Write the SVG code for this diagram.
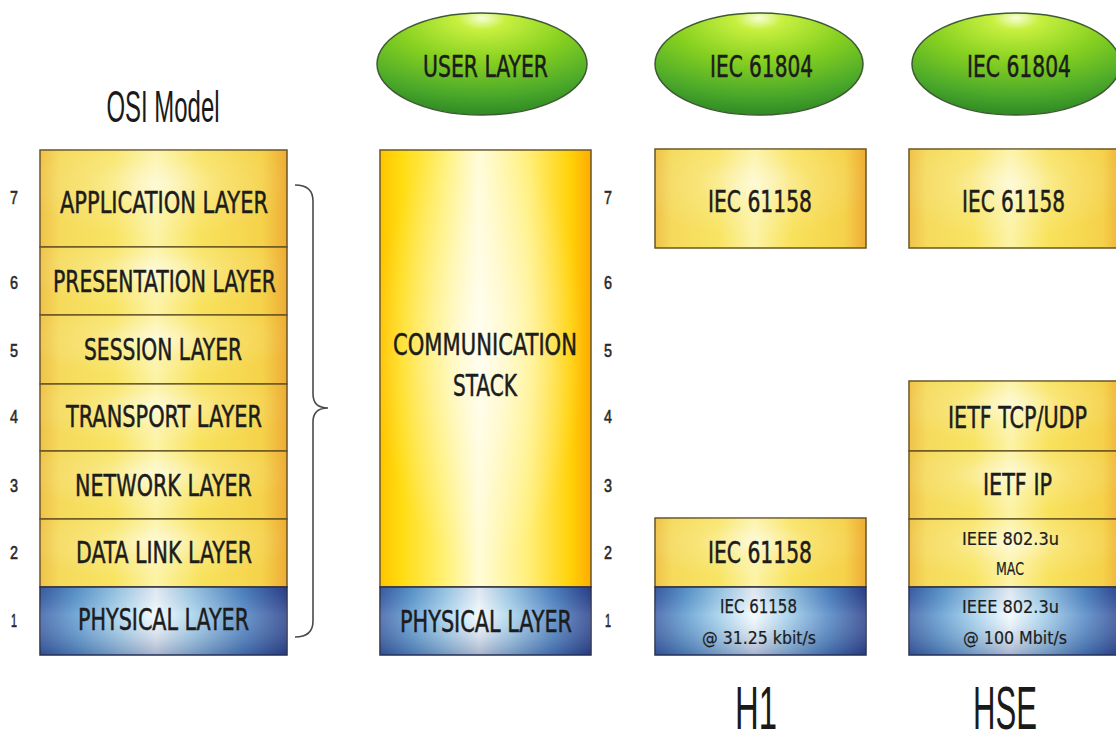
<svg xmlns="http://www.w3.org/2000/svg" width="1116" height="734" viewBox="0 0 1116 734">
  <defs>
    <!-- golden layer fill: warm edges, pale centre -->
    <linearGradient id="yelH" x1="0" y1="0" x2="1" y2="0">
      <stop offset="0" stop-color="#efc24a"/>
      <stop offset="0.08" stop-color="#f5da5c"/>
      <stop offset="0.3" stop-color="#f8e462"/>
      <stop offset="0.47" stop-color="#fcf3a6"/>
      <stop offset="0.65" stop-color="#f8e25c"/>
      <stop offset="0.9" stop-color="#f5d24a"/>
      <stop offset="1" stop-color="#eeac36"/>
    </linearGradient>
    <!-- strong orange/yellow for the communication stack -->
    <linearGradient id="stackH" x1="0" y1="0" x2="1" y2="0">
      <stop offset="0" stop-color="#ffc400"/>
      <stop offset="0.1" stop-color="#ffdc10"/>
      <stop offset="0.3" stop-color="#fff070"/>
      <stop offset="0.47" stop-color="#fffcd8"/>
      <stop offset="0.7" stop-color="#fff07a"/>
      <stop offset="0.9" stop-color="#ffd20a"/>
      <stop offset="1" stop-color="#ffac00"/>
    </linearGradient>
    <radialGradient id="stackGlow" cx="0.47" cy="0.45" r="0.5">
      <stop offset="0" stop-color="#ffffff" stop-opacity="0.65"/>
      <stop offset="0.6" stop-color="#ffffff" stop-opacity="0.25"/>
      <stop offset="1" stop-color="#ffffff" stop-opacity="0"/>
    </radialGradient>
    <radialGradient id="glow" cx="0.47" cy="0.35" r="0.55">
      <stop offset="0" stop-color="#ffffff" stop-opacity="0.55"/>
      <stop offset="0.5" stop-color="#ffffff" stop-opacity="0.15"/>
      <stop offset="1" stop-color="#ffffff" stop-opacity="0"/>
    </radialGradient>
    <!-- physical layer blue -->
    <linearGradient id="blueH" x1="0" y1="0" x2="1" y2="0">
      <stop offset="0" stop-color="#3a5fa6"/>
      <stop offset="0.15" stop-color="#5d9bd0"/>
      <stop offset="0.32" stop-color="#a8d4ee"/>
      <stop offset="0.47" stop-color="#f4fbff"/>
      <stop offset="0.62" stop-color="#a6d2ec"/>
      <stop offset="0.82" stop-color="#4f86c4"/>
      <stop offset="1" stop-color="#2a3f8a"/>
    </linearGradient>
    <linearGradient id="blueV" x1="0" y1="0" x2="0" y2="1">
      <stop offset="0" stop-color="#1c2e6a" stop-opacity="0.1"/>
      <stop offset="0.4" stop-color="#ffffff" stop-opacity="0.15"/>
      <stop offset="1" stop-color="#1c2e6a" stop-opacity="0.35"/>
    </linearGradient>
    <!-- green ellipses -->
    <radialGradient id="green" cx="0.5" cy="0.05" r="0.95" fx="0.5" fy="0.05">
      <stop offset="0" stop-color="#f6ffd8"/>
      <stop offset="0.12" stop-color="#c8f040"/>
      <stop offset="0.45" stop-color="#86d020"/>
      <stop offset="0.8" stop-color="#4aa82a"/>
      <stop offset="1" stop-color="#2f8a24"/>
    </radialGradient>
    <style>
      .lay { stroke: #6a5526; stroke-width: 1.5; }
      .phy { stroke: #2a2f4a; stroke-width: 1.5; }
      .ell { fill: url(#green); stroke: #3f5a32; stroke-width: 1.5; }
      .t { font-family: "Liberation Sans Narrow", "DejaVu Sans Condensed", "Liberation Sans", Arial, sans-serif; fill: #1c1c1c; stroke: #1c1c1c; stroke-width: 0.5; text-anchor: middle; }
      .big { font-size: 30px; }
      .mid { font-size: 20px; stroke-width: 0.25; }
      .sm { font-size: 18px; stroke-width: 0.2; }
      .num { font-family: "Liberation Sans Narrow", "Liberation Sans", Arial, sans-serif; font-size: 19px; fill: #2a2a2a; stroke: #2a2a2a; stroke-width: 0.6; text-anchor: middle; }
      .title { font-family: "Liberation Sans Narrow", "Liberation Sans", Arial, sans-serif; fill: #1a1a1a; text-anchor: middle; }
      .brace { fill: none; stroke: #4a4a4a; stroke-width: 1.6; }
    </style>
  </defs>

  <rect width="1116" height="734" fill="#ffffff"/>

  <!-- OSI reference model -->
  <text class="title" x="163" y="122" font-size="45" textLength="113" lengthAdjust="spacingAndGlyphs">OSI Model</text>

  <g id="osi-7">
    <rect class="lay" x="40" y="150" width="247" height="97" fill="url(#yelH)"/>
    <rect x="40" y="150" width="247" height="97" fill="url(#glow)"/>
    <text class="t big" x="164" y="213" textLength="208" lengthAdjust="spacingAndGlyphs">APPLICATION LAYER</text>
  </g>
  <g id="osi-6">
    <rect class="lay" x="40" y="247" width="247" height="68" fill="url(#yelH)"/>
    <rect x="40" y="247" width="247" height="68" fill="url(#glow)"/>
    <text class="t big" x="164.5" y="292" textLength="223" lengthAdjust="spacingAndGlyphs">PRESENTATION LAYER</text>
  </g>
  <g id="osi-5">
    <rect class="lay" x="40" y="315" width="247" height="69" fill="url(#yelH)"/>
    <rect x="40" y="315" width="247" height="69" fill="url(#glow)"/>
    <text class="t big" x="163" y="360" textLength="158" lengthAdjust="spacingAndGlyphs">SESSION LAYER</text>
  </g>
  <g id="osi-4">
    <rect class="lay" x="40" y="384" width="247" height="67" fill="url(#yelH)"/>
    <rect x="40" y="384" width="247" height="67" fill="url(#glow)"/>
    <text class="t big" x="164" y="427" textLength="196" lengthAdjust="spacingAndGlyphs">TRANSPORT LAYER</text>
  </g>
  <g id="osi-3">
    <rect class="lay" x="40" y="451" width="247" height="68" fill="url(#yelH)"/>
    <rect x="40" y="451" width="247" height="68" fill="url(#glow)"/>
    <text class="t big" x="163.5" y="496" textLength="177" lengthAdjust="spacingAndGlyphs">NETWORK LAYER</text>
  </g>
  <g id="osi-2">
    <rect class="lay" x="40" y="519" width="247" height="68" fill="url(#yelH)"/>
    <rect x="40" y="519" width="247" height="68" fill="url(#glow)"/>
    <text class="t big" x="164" y="563" textLength="176" lengthAdjust="spacingAndGlyphs">DATA LINK LAYER</text>
  </g>
  <g id="osi-1">
    <rect class="phy" x="40" y="587" width="247" height="68" fill="url(#blueH)"/>
    <rect x="40" y="587" width="247" height="68" fill="url(#blueV)"/>
    <text class="t big" x="163.5" y="630" textLength="171" lengthAdjust="spacingAndGlyphs">PHYSICAL LAYER</text>
  </g>

  <!-- layer numbers -->
  <g id="numbers-left">
    <text class="num" x="14" y="204" textLength="8" lengthAdjust="spacingAndGlyphs">7</text>
    <text class="num" x="14" y="289" textLength="8" lengthAdjust="spacingAndGlyphs">6</text>
    <text class="num" x="14" y="357" textLength="8" lengthAdjust="spacingAndGlyphs">5</text>
    <text class="num" x="14" y="423" textLength="8" lengthAdjust="spacingAndGlyphs">4</text>
    <text class="num" x="14" y="492" textLength="8" lengthAdjust="spacingAndGlyphs">3</text>
    <text class="num" x="14" y="559" textLength="8" lengthAdjust="spacingAndGlyphs">2</text>
    <text class="num" x="14" y="627" textLength="6" lengthAdjust="spacingAndGlyphs">1</text>
  </g>

  <!-- brace grouping the seven layers -->
  <g id="connectors">
    <path class="brace" d="M295,185 Q313,185 313,201 L313,394 Q313,408 328,408 Q313,408 313,422 L313,621 Q313,637 295,637"/>
  </g>

  <!-- Fieldbus model: user layer + communication stack -->
  <g id="user-layer">
    <ellipse class="ell" cx="482" cy="64" rx="105" ry="51"/>
    <text class="t big" x="485.5" y="77" textLength="125" lengthAdjust="spacingAndGlyphs">USER LAYER</text>
  </g>
  <g id="comm-stack">
    <rect class="lay" x="380" y="150" width="211" height="437" fill="url(#stackH)"/>
    <rect x="380" y="150" width="211" height="437" fill="url(#stackGlow)"/>
    <text class="t big" x="485" y="355" textLength="184" lengthAdjust="spacingAndGlyphs">COMMUNICATION</text>
    <text class="t big" x="485" y="396" textLength="64" lengthAdjust="spacingAndGlyphs">STACK</text>
  </g>
  <g id="fb-physical">
    <rect class="phy" x="380" y="587" width="211" height="68" fill="url(#blueH)"/>
    <rect x="380" y="587" width="211" height="68" fill="url(#blueV)"/>
    <text class="t big" x="486" y="632" textLength="172" lengthAdjust="spacingAndGlyphs">PHYSICAL LAYER</text>
  </g>

  <g id="numbers-right">
    <text class="num" x="608" y="204" textLength="8" lengthAdjust="spacingAndGlyphs">7</text>
    <text class="num" x="608" y="289" textLength="8" lengthAdjust="spacingAndGlyphs">6</text>
    <text class="num" x="608" y="357" textLength="8" lengthAdjust="spacingAndGlyphs">5</text>
    <text class="num" x="608" y="423" textLength="8" lengthAdjust="spacingAndGlyphs">4</text>
    <text class="num" x="608" y="492" textLength="8" lengthAdjust="spacingAndGlyphs">3</text>
    <text class="num" x="608" y="559" textLength="8" lengthAdjust="spacingAndGlyphs">2</text>
    <text class="num" x="608" y="627" textLength="6" lengthAdjust="spacingAndGlyphs">1</text>
  </g>

  <!-- H1 column -->
  <g id="h1-user">
    <ellipse class="ell" cx="759" cy="64" rx="104" ry="51"/>
    <text class="t big" x="761.5" y="77" textLength="103" lengthAdjust="spacingAndGlyphs">IEC 61804</text>
  </g>
  <g id="h1-app">
    <rect class="lay" x="655" y="149" width="211" height="99" fill="url(#yelH)"/>
    <rect x="655" y="149" width="211" height="99" fill="url(#glow)"/>
    <text class="t big" x="760" y="212" textLength="104" lengthAdjust="spacingAndGlyphs">IEC 61158</text>
  </g>
  <g id="h1-dll">
    <rect class="lay" x="655" y="518" width="211" height="69" fill="url(#yelH)"/>
    <rect x="655" y="518" width="211" height="69" fill="url(#glow)"/>
    <text class="t big" x="760" y="563" textLength="104" lengthAdjust="spacingAndGlyphs">IEC 61158</text>
  </g>
  <g id="h1-phy">
    <rect class="phy" x="655" y="587" width="211" height="68" fill="url(#blueH)"/>
    <rect x="655" y="587" width="211" height="68" fill="url(#blueV)"/>
    <text class="t mid" x="758.5" y="613" textLength="77" lengthAdjust="spacingAndGlyphs">IEC 61158</text>
    <text class="t sm" x="759" y="644" textLength="114" lengthAdjust="spacingAndGlyphs">@ 31.25 kbit/s</text>
  </g>
  <text class="title" x="756" y="729" font-size="62" textLength="42" lengthAdjust="spacingAndGlyphs">H1</text>

  <!-- HSE column -->
  <g id="hse-user">
    <ellipse class="ell" cx="1016" cy="64" rx="104" ry="51"/>
    <text class="t big" x="1019" y="77" textLength="104" lengthAdjust="spacingAndGlyphs">IEC 61804</text>
  </g>
  <g id="hse-app">
    <rect class="lay" x="909" y="149" width="215" height="99" fill="url(#yelH)"/>
    <rect x="909" y="149" width="215" height="99" fill="url(#glow)"/>
    <text class="t big" x="1013.5" y="212" textLength="103" lengthAdjust="spacingAndGlyphs">IEC 61158</text>
  </g>
  <g id="hse-transport">
    <rect class="lay" x="909" y="381" width="215" height="70" fill="url(#yelH)"/>
    <rect x="909" y="381" width="215" height="70" fill="url(#glow)"/>
    <text class="t big" x="1017.5" y="428" textLength="139" lengthAdjust="spacingAndGlyphs">IETF TCP/UDP</text>
  </g>
  <g id="hse-network">
    <rect class="lay" x="909" y="451" width="215" height="68" fill="url(#yelH)"/>
    <rect x="909" y="451" width="215" height="68" fill="url(#glow)"/>
    <text class="t big" x="1017.5" y="495" textLength="69" lengthAdjust="spacingAndGlyphs">IETF IP</text>
  </g>
  <g id="hse-mac">
    <rect class="lay" x="909" y="519" width="215" height="68" fill="url(#yelH)"/>
    <rect x="909" y="519" width="215" height="68" fill="url(#glow)"/>
    <text class="t sm" x="1010.5" y="545" textLength="97" lengthAdjust="spacingAndGlyphs">IEEE 802.3u</text>
    <text class="t sm" x="1010" y="575" textLength="28" lengthAdjust="spacingAndGlyphs">MAC</text>
  </g>
  <g id="hse-phy">
    <rect class="phy" x="909" y="587" width="215" height="68" fill="url(#blueH)"/>
    <rect x="909" y="587" width="215" height="68" fill="url(#blueV)"/>
    <text class="t sm" x="1010.5" y="613" textLength="97" lengthAdjust="spacingAndGlyphs">IEEE 802.3u</text>
    <text class="t sm" x="1015" y="644" textLength="104" lengthAdjust="spacingAndGlyphs">@ 100 Mbit/s</text>
  </g>
  <text class="title" x="1005" y="729" font-size="62" textLength="64" lengthAdjust="spacingAndGlyphs">HSE</text>
</svg>
